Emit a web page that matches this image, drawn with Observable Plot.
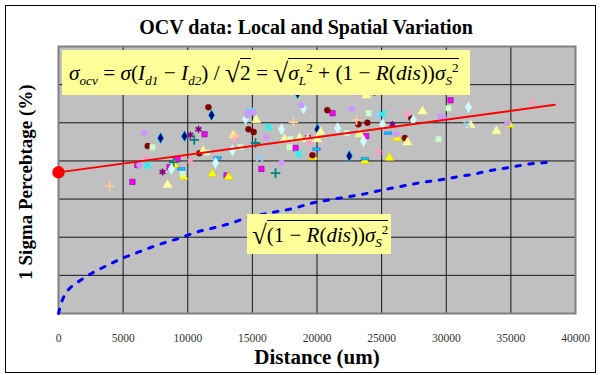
<!DOCTYPE html>
<html>
<head>
<meta charset="utf-8">
<script src="https://cdn.jsdelivr.net/npm/d3@7"></script>
<script src="https://cdn.jsdelivr.net/npm/@observablehq/plot@0.6"></script>
<style>
  html, body { margin: 0; padding: 0; background: #fff; }
  #wrap { position: relative; width: 600px; height: 375px; overflow: hidden; font-family: "Liberation Serif", "Times New Roman", serif; }
  #border { position: absolute; left: 5px; top: 5px; width: 591px; height: 368px; border: 1px solid #000; box-sizing: border-box; pointer-events: none; }
  #title { position: absolute; left: 0; width: 612px; top: 17px; text-align: center; font-weight: bold; font-size: 20px; line-height: 1; }
  #ytitle { position: absolute; left: 25px; top: 182px; transform: translate(-50%, -50%) rotate(-90deg); font-weight: bold; font-size: 19px; white-space: nowrap; line-height: 1; }
  #xtitle { position: absolute; left: 0; width: 634px; top: 347px; text-align: center; font-weight: bold; font-size: 21px; line-height: 1; }
  .box { position: absolute; background: #FFFF99; white-space: nowrap; font-style: normal; box-sizing: border-box; }
  .box i { font-style: italic; }
  .box sub, .box sup { font-size: 62%; line-height: 0; }
  .box sub { font-style: italic; }
  .rad { font-size: 128%; line-height: 0; vertical-align: -2px; }
  .ov { border-top: 1px solid #000; padding-top: 2px; }
  #f1 { left: 62px; top: 50px; width: 408px; height: 45px; font-size: 21.3px; padding: 11px 0 0 7px; }
  #f2 { left: 247px; top: 214px; width: 144px; height: 40px; font-size: 21px; padding: 9px 0 0 5px; }
</style>
</head>
<body>
<div id="wrap">
  <div id="chart"></div>
  <div id="title">OCV data: Local and Spatial Variation</div>
  <div id="ytitle">1 Sigma Percebtage (%)</div>
  <div id="xtitle">Distance (um)</div>
  <div class="box" id="f1"><i>σ</i><sub>ocv</sub> = <i>σ</i>(<i>I</i><sub>d1</sub> − <i>I</i><sub>d2</sub>) / <span class="rad">√</span><span class="ov">2</span> = <span class="rad">√</span><span class="ov"><i>σ</i><sub>L</sub><sup>2</sup> + (1 − <i>R</i>(<i>dis</i>))<i>σ</i><sub>S</sub><sup>2</sup></span></div>
  <div class="box" id="f2"><span class="rad">√</span><span class="ov">(1 − <i>R</i>(<i>dis</i>))<i>σ</i><sub>S</sub><sup>2</sup></span></div>
  <div id="border"></div>
</div>
<script>
// ---- data (distance in um, sigma value in grid units) ----
const xTicks = [0, 5000, 10000, 15000, 20000, 25000, 30000, 35000, 40000];
const yGrid = [1, 2, 3, 4, 5, 6, 7];

const navyDiamond = [[7900,4.6],[9750,4.65],[20040,4.83],[22500,4.13],[11840,5.2],[18500,5.77]];
const magentaSquare = [[11300,4.7],[6100,3.89],[9200,4.05],[8590,3.84],[5720,3.45],[18340,4.34],[21200,5.25],[23800,4.65],[30330,5.59],[19300,4.6],[15700,3.79],[13000,3.62]];
const yellowTriangle = [[8980,3.89],[9670,3.58],[11900,3.66],[13150,3.58],[23700,4.0],[25600,4.08],[26200,4.6],[34900,4.95],[19700,4.1]];
const cyanX = [[16250,4.89],[18570,4.18],[25070,5.23],[6900,3.89],[14800,5.3]];
const purpleAsterisk = [[10830,4.83],[10200,4.68],[8050,3.71],[24450,5.8],[25840,4.96]];
const maroonCircle = [[11600,5.41],[6900,4.39],[10900,4.2],[14700,4.83],[20800,5.33],[19650,4.15],[23200,4.96],[23900,5.0],[27300,5.12],[26800,4.6],[15100,4.76]];
const tealPlus = [[8900,3.97],[15240,4.47],[16790,3.68],[10500,4.55]];
const cyanDash = [[9500,3.79],[12300,4.08],[19960,4.31],[25500,4.73],[23700,4.06]];
const lightCyanDiamond = [[8740,3.79],[14470,5.1],[18960,5.38],[17250,4.83],[13460,4.28],[12150,3.95],[25070,4.96],[21600,4.86],[23600,4.52],[31720,5.41],[27450,5.07]];
const lightGreenSquare = [[7270,4.36],[9600,3.66],[17950,4.57],[17870,4.36],[14080,4.36],[22300,4.73],[29400,4.57],[30170,5.38],[24000,5.25],[11500,4.22]];
const lightYellowTriangle = [[11200,4.26],[15300,5.07],[20270,4.76],[13540,4.68],[17490,4.57],[18650,4.6],[19270,4.57],[8430,3.37],[23830,5.72],[28160,5.3],[27000,4.49],[33890,4.78],[20000,4.57],[23300,4.7],[31880,4.94]];
const lightBlueX = [[24600,5.2],[15550,4.08],[31600,4.95]];
const pinkAsterisk = [[6730,4.08],[10200,4.0],[19400,4.47],[27000,5.23],[24760,4.23],[36670,5.54],[13700,4.6]];
const lavenderCircle = [[6650,4.73],[6270,3.89],[14600,5.28],[15100,5.28],[18800,5.46],[16090,4.62],[17250,3.95],[22700,5.36],[23000,5.77],[26150,4.7],[29550,5.17],[29790,5.12],[34740,4.99],[14620,5.2]];
const peachPlus = [[18180,5.02],[23060,5.07],[3950,3.34],[13600,4.66]];

// fitted total sigma line and spatial component curve
const fitLine = [[0, 3.70], [38400, 5.47]];
const spatialX = [0,232,464,930,1700,2550,3400,4180,5030,5960,6890,8430,9440,10370,12300,13460,14310,16400,18340,19340,21280,22440,23600,24680,25840,27080,27850,29010,30020,31100,32260,33110,34200,35360,36440,37450,38370];
const spatialY = [0,0.29,0.48,0.68,0.87,1.05,1.2,1.33,1.46,1.58,1.7,1.88,1.98,2.1,2.27,2.38,2.48,2.64,2.77,2.87,3.0,3.06,3.13,3.21,3.29,3.37,3.42,3.48,3.53,3.6,3.66,3.73,3.79,3.86,3.92,3.95,3.99];

// ---- rendering ----
const dash = { draw(ctx, size) { const w = Math.sqrt(size) * 0.62; ctx.moveTo(-w, -1.3); ctx.lineTo(w, -1.3); ctx.lineTo(w, 1.3); ctx.lineTo(-w, 1.3); ctx.closePath(); } };

const series = [
  [navyDiamond, "diamond", "#000080", "#00FFFF", 0.6, 3.4],
  [magentaSquare, "square", "#FF00FF", "#800080", 0.6, 3.0],
  [yellowTriangle, "triangle", "#FFFF00", "#C0C000", 0.4, 3.4],
  [cyanX, "times", null, "#00FFFF", 1.8, 3.2],
  [purpleAsterisk, "asterisk", null, "#800080", 1.6, 3.2],
  [maroonCircle, "circle", "#800000", "#800000", 0.5, 3.0],
  [tealPlus, "plus", null, "#008080", 1.8, 3.2],
  [cyanDash, dash, "#00CCFF", "#0000FF", 0.3, 3.4],
  [lightCyanDiamond, "diamond", "#CCFFFF", "#CCFFFF", 0.5, 3.4],
  [lightGreenSquare, "square", "#CCFFCC", "#CCFFCC", 0.5, 3.0],
  [lightYellowTriangle, "triangle", "#FFFF99", "#FFFF99", 0.5, 3.4],
  [lightBlueX, "times", null, "#99CCFF", 1.8, 3.2],
  [pinkAsterisk, "asterisk", null, "#FF99CC", 1.6, 3.2],
  [lavenderCircle, "circle", "#CC99FF", "#CC99FF", 0.5, 3.0],
  [peachPlus, "plus", null, "#FFCC99", 1.8, 3.2]
];

const dotMarks = series.map(([pts, sym, fill, stroke, sw, r]) =>
  Plot.dot(pts, { x: d => d[0], y: d => d[1], symbol: sym, r, fill: fill ?? "none", stroke, strokeWidth: sw })
);

const spatial = spatialX.map((x, i) => ({ x, y: spatialY[i] }));

const chart = Plot.plot({
  width: 600,
  height: 375,
  marginLeft: 58,
  marginRight: 25,
  marginTop: 46,
  marginBottom: 62,
  style: { background: "transparent", fontFamily: "Liberation Serif, serif", fontSize: "11.5px", color: "#333" },
  x: { domain: [0, 40000], label: null },
  y: { domain: [0, 7], axis: null },
  marks: [
    Plot.frame({ fill: "#C0C0C0", stroke: null }),
    Plot.gridX(xTicks, { stroke: "#000", strokeOpacity: 0.9, strokeWidth: 1 }),
    Plot.gridY(yGrid, { stroke: "#000", strokeOpacity: 0.9, strokeWidth: 1 }),
    Plot.frame({ stroke: "#808080", strokeWidth: 2 }),
    Plot.axisX(xTicks, { tickSize: 0, tickPadding: 20, tickFormat: d => String(d), label: null }),
    Plot.line(spatial, { x: "x", y: "y", stroke: "#0000FF", strokeWidth: 3, strokeDasharray: "4.5,8.5", curve: "monotone-x" }),
    ...dotMarks,
    Plot.line(fitLine, { x: d => d[0], y: d => d[1], stroke: "#FF0000", strokeWidth: 2 }),
    Plot.dot([fitLine[0]], { x: d => d[0], y: d => d[1], r: 5.5, fill: "#FF0000", stroke: "#FF0000" })
  ]
});
document.getElementById("chart").appendChild(chart);
</script>
</body>
</html>
